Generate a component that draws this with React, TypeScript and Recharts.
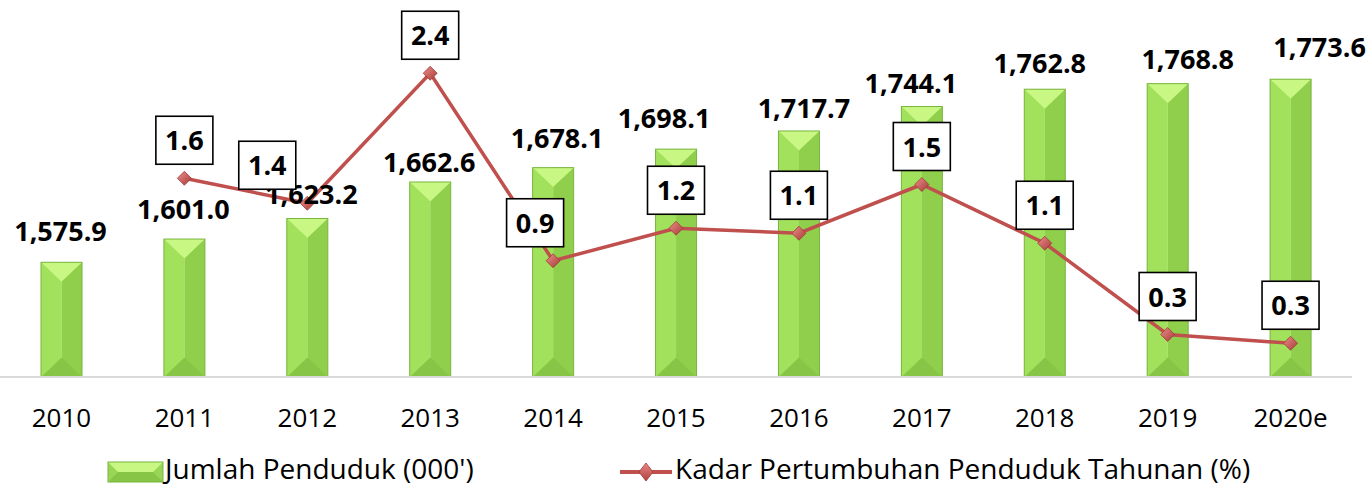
import React from 'react';
import { ComposedChart, Bar, Line, XAxis, YAxis, LabelList } from 'recharts';

const years = ['2010', '2011', '2012', '2013', '2014', '2015', '2016', '2017', '2018', '2019', '2020e'];
const population = [1575.9, 1601.0, 1623.2, 1662.6, 1678.1, 1698.1, 1717.7, 1744.1, 1762.8, 1768.8, 1773.6];
const growth = [null, 1.59, 1.39, 2.43, 0.93, 1.19, 1.15, 1.54, 1.07, 0.34, 0.27];
const seriesNames = ["Jumlah Penduduk (000')", 'Kadar Pertumbuhan Penduduk Tahunan (%)'];

// label nudges (px), the way they were dragged in the original
const barLabelShift = [
  [-1, 21], [-1, 20], [4, 14], [-1, 10], [4, 20], [-12, 21],
  [5, 13], [-11, 14], [-5, 16], [20, 15], [29, 22],
];
const lineLabelShift = [0, 0, -40, 0, -18, 0, 0, 0, 0, 0, 0];

const data = years.map((year, i) => ({ year, population: population[i], growth: growth[i] }));

const FONT = '"Open Sans", "Noto Sans", sans-serif';
const RED = '#c0504d';

const BevelBar = (props: any) => {
  const { x, y, width, height } = props;
  if (height == null || height <= 0) return <g />;
  const cx = x + width / 2;
  const d = width / 2;
  return (
    <g>
      <rect x={x} y={y} width={width / 2} height={height} fill="#a3e35d" />
      <rect x={cx} y={y} width={width / 2} height={height} fill="#8fcf4c" />
      <polygon points={`${x},${y} ${x + width},${y} ${cx},${y + d * 0.95}`} fill="#c8f784" />
      <polygon points={`${x},${y + height} ${x + width},${y + height} ${cx},${y + height - d * 0.95}`} fill="#86c545" />
      <polygon points={`${x},${y} ${cx},${y + d * 0.95} ${cx},${y + height - d * 0.95} ${x},${y + height}`} fill="#a0e05a" opacity={0.6} />
      <rect x={x} y={y} width={width} height={height} fill="none" stroke="#79b53f" strokeWidth={1} />
    </g>
  );
};

const Diamond = (props: any) => {
  const { cx, cy, payload } = props;
  if (cx == null || cy == null || payload == null || payload.growth == null) return <g />;
  const r = 7;
  return (
    <g>
      <polygon points={`${cx},${cy - r} ${cx + r},${cy} ${cx},${cy + r} ${cx - r},${cy}`} fill="url(#diamondGrad)" stroke="#9a3b38" strokeWidth={0.8} />
    </g>
  );
};

const BarValueLabel = (props: any) => {
  const { x, y, width, value, index } = props;
  const [dx, gap] = barLabelShift[index] || [0, 16];
  return (
    <text x={x + width / 2 + dx} y={y - gap} textAnchor="middle" fontFamily={FONT} fontWeight={700} fontSize={27} fill="#000">
      {Number(value).toLocaleString('en-US', { minimumFractionDigits: 1, maximumFractionDigits: 1 })}
    </text>
  );
};

const LineValueLabel = (props: any) => {
  const { x, y, value, index } = props;
  if (value == null || x == null || y == null) return <g />;
  const bw = 57;
  const bh = 48;
  const cx = x + (lineLabelShift[index] || 0);
  const bottom = y - 14;
  return (
    <g>
      <rect x={cx - bw / 2} y={bottom - bh} width={bw} height={bh} fill="#fff" stroke="#000" strokeWidth={1.6} />
      <text x={cx} y={bottom - 14} textAnchor="middle" fontFamily={FONT} fontWeight={700} fontSize={27} fill="#000">
        {Number(value).toFixed(1)}
      </text>
    </g>
  );
};

const YearTick = (props: any) => {
  const { x, y, payload } = props;
  return (
    <text x={x} y={y + 48} textAnchor="middle" fontFamily={FONT} fontSize={26} fill="#000">
      {payload.value}
    </text>
  );
};

const LegendOverlay = () => (
  <svg width={1372} height={50} style={{ position: 'absolute', left: 0, top: 434, overflow: 'visible' }}>
    <defs>
      <linearGradient id="diamondGradLegend" x1="0" y1="0" x2="0" y2="1">
        <stop offset="0%" stopColor="#e88a87" />
        <stop offset="100%" stopColor="#b0403d" />
      </linearGradient>
    </defs>
    <g>
      <rect x={108} y={28} width={55} height={20} fill="#9ad655" />
      <polygon points="108,28 163,28 153,38 118,38" fill="#c8f784" />
      <polygon points="108,48 163,48 153,38 118,38" fill="#86c545" />
      <rect x={108} y={28} width={55} height={20} fill="none" stroke="#79b53f" strokeWidth={1} />
      <text x={165} y={45} fontFamily={FONT} fontSize={28} fill="#000">{seriesNames[0]}</text>
    </g>
    <g>
      <line x1={620} y1={38} x2={672} y2={38} stroke={RED} strokeWidth={4} />
      <polygon points="646,29 653,38 646,47 639,38" fill="url(#diamondGradLegend)" stroke="#9a3b38" strokeWidth={0.8} />
      <text x={675} y={45} fontFamily={FONT} fontSize={28} fill="#000">{seriesNames[1]}</text>
    </g>
  </svg>
);

export default function App() {
  return (
    <div style={{ position: 'relative', width: 1372, height: 486, background: '#fff', overflow: 'hidden' }}>
      <style>{'body{margin:0}'}</style>
      <ComposedChart width={1372} height={486} data={data} margin={{ top: 2, right: 20, left: 0, bottom: 0 }}>
        <defs>
          <linearGradient id="diamondGrad" x1="0" y1="0" x2="1" y2="1">
            <stop offset="0%" stopColor="#ec8f8c" />
            <stop offset="100%" stopColor="#a83a37" />
          </linearGradient>
        </defs>
        <XAxis
          dataKey="year"
          height={109}
          axisLine={{ stroke: '#d9d9d9', strokeWidth: 2 }}
          tickLine={false}
          tickSize={0}
          interval={0}
          tick={<YearTick />}
        />
        <YAxis yAxisId="left" hide domain={[1452, 1857]} allowDataOverflow />
        <YAxis yAxisId="right" orientation="right" hide domain={[0, 3]} allowDataOverflow />
        <Bar yAxisId="left" dataKey="population" barSize={41} shape={<BevelBar />} isAnimationActive={false}>
          <LabelList dataKey="population" content={<BarValueLabel />} />
        </Bar>
        <Line
          yAxisId="right"
          dataKey="growth"
          stroke={RED}
          strokeWidth={3.5}
          dot={<Diamond />}
          activeDot={false}
          isAnimationActive={false}
        >
          <LabelList dataKey="growth" content={<LineValueLabel />} />
        </Line>
      </ComposedChart>
      <LegendOverlay />
    </div>
  );
}
